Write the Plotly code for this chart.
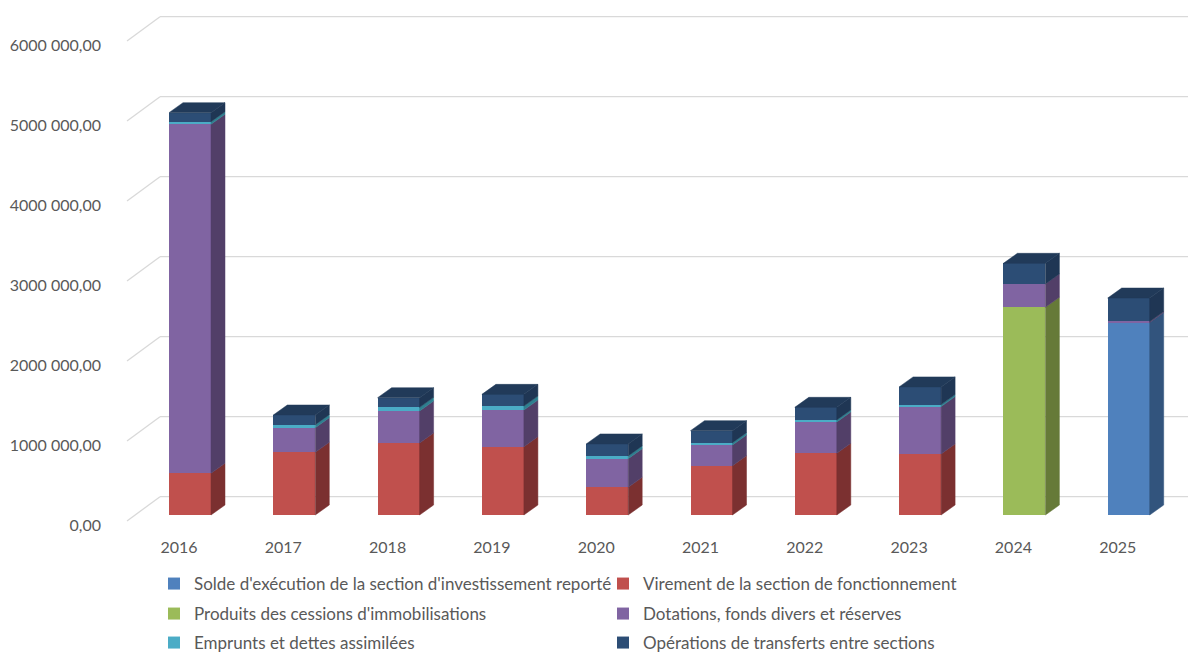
import plotly.graph_objects as go

years = ["2016", "2017", "2018", "2019", "2020", "2021", "2022", "2023", "2024", "2025"]

solde = [0, 0, 0, 0, 0, 0, 0, 0, 0, 2405000]
virement = [521000, 784000, 900000, 854000, 346000, 617000, 771000, 763000, 0, 0]
produits = [0, 0, 0, 0, 0, 0, 0, 0, 2596000, 0]
dotations = [4363000, 307000, 400000, 458000, 358000, 258000, 392000, 592000, 292000, 15000]
emprunts = [32000, 38000, 46000, 50000, 34000, 29000, 25000, 25000, 0, 0]
operations = [113000, 121000, 120000, 146000, 150000, 150000, 158000, 221000, 258000, 292000]

y_ticks = [0, 1000000, 2000000, 3000000, 4000000, 5000000, 6000000]
y_tick_text = ["0,00", "1000 000,00", "2000 000,00", "3000 000,00",
               "4000 000,00", "5000 000,00", "6000 000,00"]

series = [
    ("Solde d'exécution de la section d'investissement reporté", solde, "#4F81BD", "#32547D", "legend"),
    ("Virement de la section de fonctionnement", virement, "#C0504D", "#7B3030", "legend"),
    ("Produits des cessions d'immobilisations", produits, "#9BBB59", "#667A38", "legend2"),
    ("Dotations, fonds divers et réserves", dotations, "#8064A2", "#523F68", "legend2"),
    ("Emprunts et dettes assimilées", emprunts, "#4BACC6", "#2E7F8F", "legend3"),
    ("Opérations de transferts entre sections", operations, "#2C4D75", "#1F3654", "legend3"),
]
top_color = "#213A59"

# fake 3d geometry, in figure pixels (page has an 8px body margin)
W, H = 1188, 647
SP = 104.3            # px between categories
PX0 = 182             # px of first bar center
BW = 42 / SP          # bar width in x units
DX = 14 / SP          # bar depth, x
YPX = 12500           # value per pixel
DY = 10 * YPX         # bar depth, y
ZERO = 507            # px of bar base
L, B = 100, 122
x_range = [(L - PX0) / SP, (W - PX0) / SP]
y_range = [-(H - B - ZERO) * YPX, ZERO * YPX]

xpos = list(range(len(years)))

fig = go.Figure()

for name, vals, col, side, leg in series:
    fig.add_trace(go.Bar(x=xpos, y=vals, name=name, width=BW, legend=leg,
                         marker=dict(color=col, line=dict(width=0)),
                         hoverinfo="skip"))

# side faces
base = [0] * len(years)
for name, vals, col, side, leg in series:
    xs, ys = [], []
    for i, v in enumerate(vals):
        if v <= 0:
            continue
        xr = i + BW / 2
        b0, b1 = base[i], base[i] + v
        xs += [xr, xr + DX, xr + DX, xr, xr, None]
        ys += [b0, b0 + DY, b1 + DY, b1, b0, None]
        base[i] = b1
    fig.add_trace(go.Scatter(x=xs, y=ys, mode="lines", fill="toself",
                             fillcolor=side, line=dict(color=side, width=0.5),
                             showlegend=False, hoverinfo="skip"))

# top faces
xs, ys = [], []
for i, t in enumerate(base):
    xl, xr = i - BW / 2, i + BW / 2
    xs += [xl, xl + DX, xr + DX, xr, xl, None]
    ys += [t, t + DY, t + DY, t, t, None]
fig.add_trace(go.Scatter(x=xs, y=ys, mode="lines", fill="toself",
                         fillcolor=top_color, line=dict(color=top_color, width=0.5),
                         showlegend=False, hoverinfo="skip"))

# back wall gridlines
x_front = (119 - PX0) / SP
x_back = (152 - PX0) / SP
front_off = -75000
back_off = 229000
for v in y_ticks:
    fig.add_shape(type="line", layer="below", xref="x", yref="y",
                  x0=x_front, y0=v + front_off, x1=x_back, y1=v + back_off,
                  line=dict(color="#D9D9D9", width=1.3))
    fig.add_shape(type="line", layer="below", xref="x", yref="y",
                  x0=x_back, y0=v + back_off, x1=x_range[1], y1=v + back_off,
                  line=dict(color="#D9D9D9", width=1.3))

font = dict(family="Lato, Calibri, sans-serif", size=16, color="#595959")
legend_font = dict(family="Lato, Calibri, sans-serif", size=17, color="#595959")


def legend_row(py):
    return dict(orientation="h", xref="container", yref="container",
                x=146 / W, y=1 - py / H, xanchor="left", yanchor="middle",
                traceorder="normal", entrywidth=404, entrywidthmode="pixels",
                font=legend_font, itemclick=False, bgcolor="rgba(0,0,0,0)")


fig.update_layout(
    width=W, height=H,
    barmode="stack",
    plot_bgcolor="white", paper_bgcolor="white",
    margin=dict(l=L, r=0, t=0, b=B),
    font=font,
    showlegend=True,
    legend=legend_row(576),
    legend2=legend_row(606),
    legend3=legend_row(635),
    xaxis=dict(range=x_range, showgrid=False, zeroline=False, showline=False,
               tickvals=[i - 11 / SP for i in xpos], ticktext=years,
               ticks="", ticklabelstandoff=3, fixedrange=True),
    yaxis=dict(range=y_range, showgrid=False, zeroline=False, showline=False,
               tickvals=[v - 125000 for v in y_ticks], ticktext=y_tick_text,
               ticks="", ticklabelstandoff=6, fixedrange=True),
)

fig.write_html("out.html")
